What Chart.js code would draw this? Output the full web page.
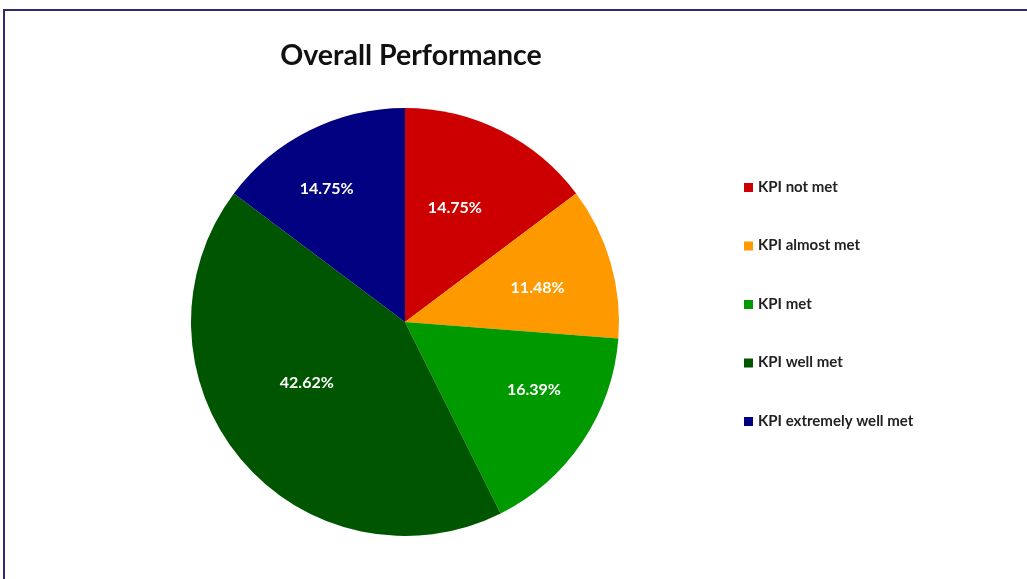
<!DOCTYPE html>
<html><head><meta charset="utf-8">
<script src="https://cdn.jsdelivr.net/npm/chart.js@4/dist/chart.umd.min.js"></script>
<style>
html,body{margin:0;padding:0;background:#fff;}
#wrap{position:relative;width:1027px;height:579px;overflow:hidden;}
canvas{display:block;}
</style></head>
<body><div id="wrap"><canvas id="c" width="1027" height="579"></canvas></div>
<script>
const categories = ["KPI not met","KPI almost met","KPI met","KPI well met","KPI extremely well met"];
const values = [14.75, 11.48, 16.39, 42.62, 14.75];
const colors = ["#cc0000","#ff9900","#009900","#005500","#000080"];
const titleText = "Overall Performance";
const FONT = "Lato, 'Open Sans', sans-serif";
// radial placement of each data label (fraction of radius), like Excel "best fit"
const labelRadius = [0.58, 0.64, 0.68, 0.54, 0.72];
const labelAngleShift = [-0.05, 0.03, -0.11, 0.14, -0.07];

const decor = {
  id:'decor',
  beforeDraw(chart){
    const ctx = chart.ctx;
    ctx.save();
    ctx.fillStyle = '#fff';
    ctx.fillRect(0,0,chart.width,chart.height);
    ctx.strokeStyle = '#2e2a6b';
    ctx.lineWidth = 2;
    ctx.strokeRect(4,10,1100,700);
    ctx.restore();
  },
  afterDraw(chart){
    const ctx = chart.ctx;
    ctx.save();
    ctx.fillStyle = '#111';
    ctx.font = "bold 28.5px " + FONT;
    ctx.textAlign = 'center';
    ctx.textBaseline = 'middle';
    ctx.fillText(titleText, 411, 56);
    const meta = chart.getDatasetMeta(0);
    ctx.font = "bold 16px " + FONT;
    ctx.fillStyle = '#fff';
    meta.data.forEach((arc,i)=>{
      const mid = (arc.startAngle + arc.endAngle)/2 + labelAngleShift[i];
      const r = arc.outerRadius * labelRadius[i];
      ctx.fillText(values[i].toFixed(2)+'%', arc.x + Math.cos(mid)*r, arc.y + Math.sin(mid)*r);
    });
    ctx.font = "bold 15px " + FONT;
    ctx.textAlign = 'left';
    categories.forEach((c,i)=>{
      const y = 187 + i*58.5;
      ctx.fillStyle = colors[i];
      ctx.fillRect(744, y-4, 9, 9);
      ctx.fillStyle = '#222';
      ctx.fillText(c, 758, y);
    });
    ctx.restore();
  }
};

new Chart(document.getElementById('c'), {
  type:'pie',
  data:{labels:categories, datasets:[{data:values, backgroundColor:colors, borderWidth:0}]},
  options:{
    responsive:false, animation:false,
    layout:{padding:{top:108,bottom:43,left:191,right:408}},
    plugins:{legend:{display:false}, tooltip:{enabled:false}, title:{display:false}}
  },
  plugins:[decor]
});
</script></body></html>
